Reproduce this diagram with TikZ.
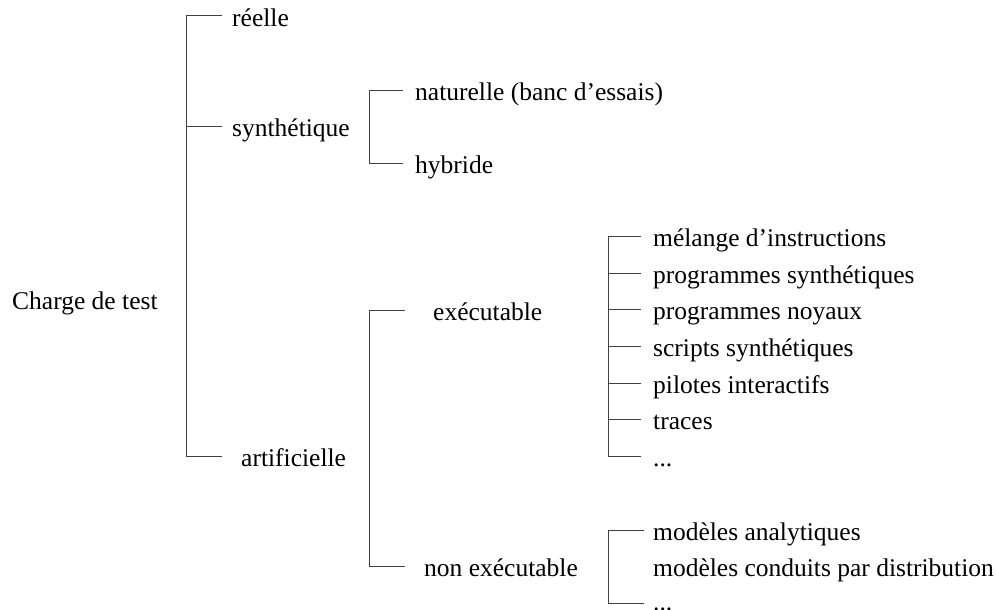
\documentclass[tikz,border=0pt]{standalone}
\usepackage{fontspec}
\setmainfont{Liberation Serif}
\begin{document}
\begin{tikzpicture}[x=1pt,y=-1pt,
  lbl/.style={anchor=west,inner sep=0pt,text height=23pt,text depth=2.5pt,
    font=\fontsize{25.5}{30}\selectfont},
  brk/.style={draw=black!75,line width=1pt}]
\useasboundingbox (0,0) rectangle (996,610);
% spines
\coordinate (s1) at (186,0);
\coordinate (s2) at (369,0);
\coordinate (s3) at (608,0);
% root
\node[lbl] (root) at (12,299) {Charge de test};
% level 1
\node[lbl] (reelle) at (232,16) {réelle};
\node[lbl] (synth) at (232,126.5) {synthétique};
\node[lbl] (artif) at (241,456.5) {artificielle};
% synthetic children
\node[lbl] (nat) at (415,90.5) {naturelle (banc d’essais)};
\node[lbl] (hyb) at (415,163) {hybride};
% artificial children
\node[lbl] (exec) at (433,310) {exécutable};
\node[lbl] (nonexec) at (424,566) {non exécutable};
% executable children
\node[lbl] (e1) at (653,236.5) {mélange d’instructions};
\node[lbl] (e2) at (653,273) {programmes synthétiques};
\node[lbl] (e3) at (653,309.5) {programmes noyaux};
\node[lbl] (e4) at (653,346) {scripts synthétiques};
\node[lbl] (e5) at (653,383) {pilotes interactifs};
\node[lbl] (e6) at (653,419.5) {traces};
\node[lbl] (e7) at (653,456) {...};
% non executable children
\node[lbl] (n1) at (653,530) {modèles analytiques};
\node[lbl] (n2) at (653,566.5) {modèles conduits par distribution};
\node[lbl] (n3) at (653,600.5) {...};
\coordinate (n3t) at (644,603);
% main bracket
\draw[brk] ([xshift=-10pt]reelle.west) -- (reelle.west -| s1) -- (artif.west -| s1) -- ([xshift=-19pt]artif.west);
\draw[brk] ([xshift=-10pt]synth.west) -- (synth.west -| s1);
% synthetic bracket
\draw[brk] ([xshift=-12pt]nat.west) -- (nat.west -| s2) -- (hyb.west -| s2) -- ([xshift=-12pt]hyb.west);
% artificial bracket
\draw[brk] ([xshift=-28pt]exec.west) -- (exec.west -| s2) -- (nonexec.west -| s2) -- ([xshift=-19pt]nonexec.west);
% executable bracket
\draw[brk] ([xshift=-12pt]e1.west) -- (e1.west -| s3) -- (e7.west -| s3) -- ([xshift=-12pt]e7.west);
\foreach \n in {e2,e3,e4,e5,e6}
  \draw[brk] ([xshift=-12pt]\n.west) -- (\n.west -| s3);
% non executable bracket
\draw[brk] ([xshift=-9pt]n1.west) -- (n1.west -| s3) -- (n3t -| s3) -- (n3t);
\end{tikzpicture}
\end{document}
